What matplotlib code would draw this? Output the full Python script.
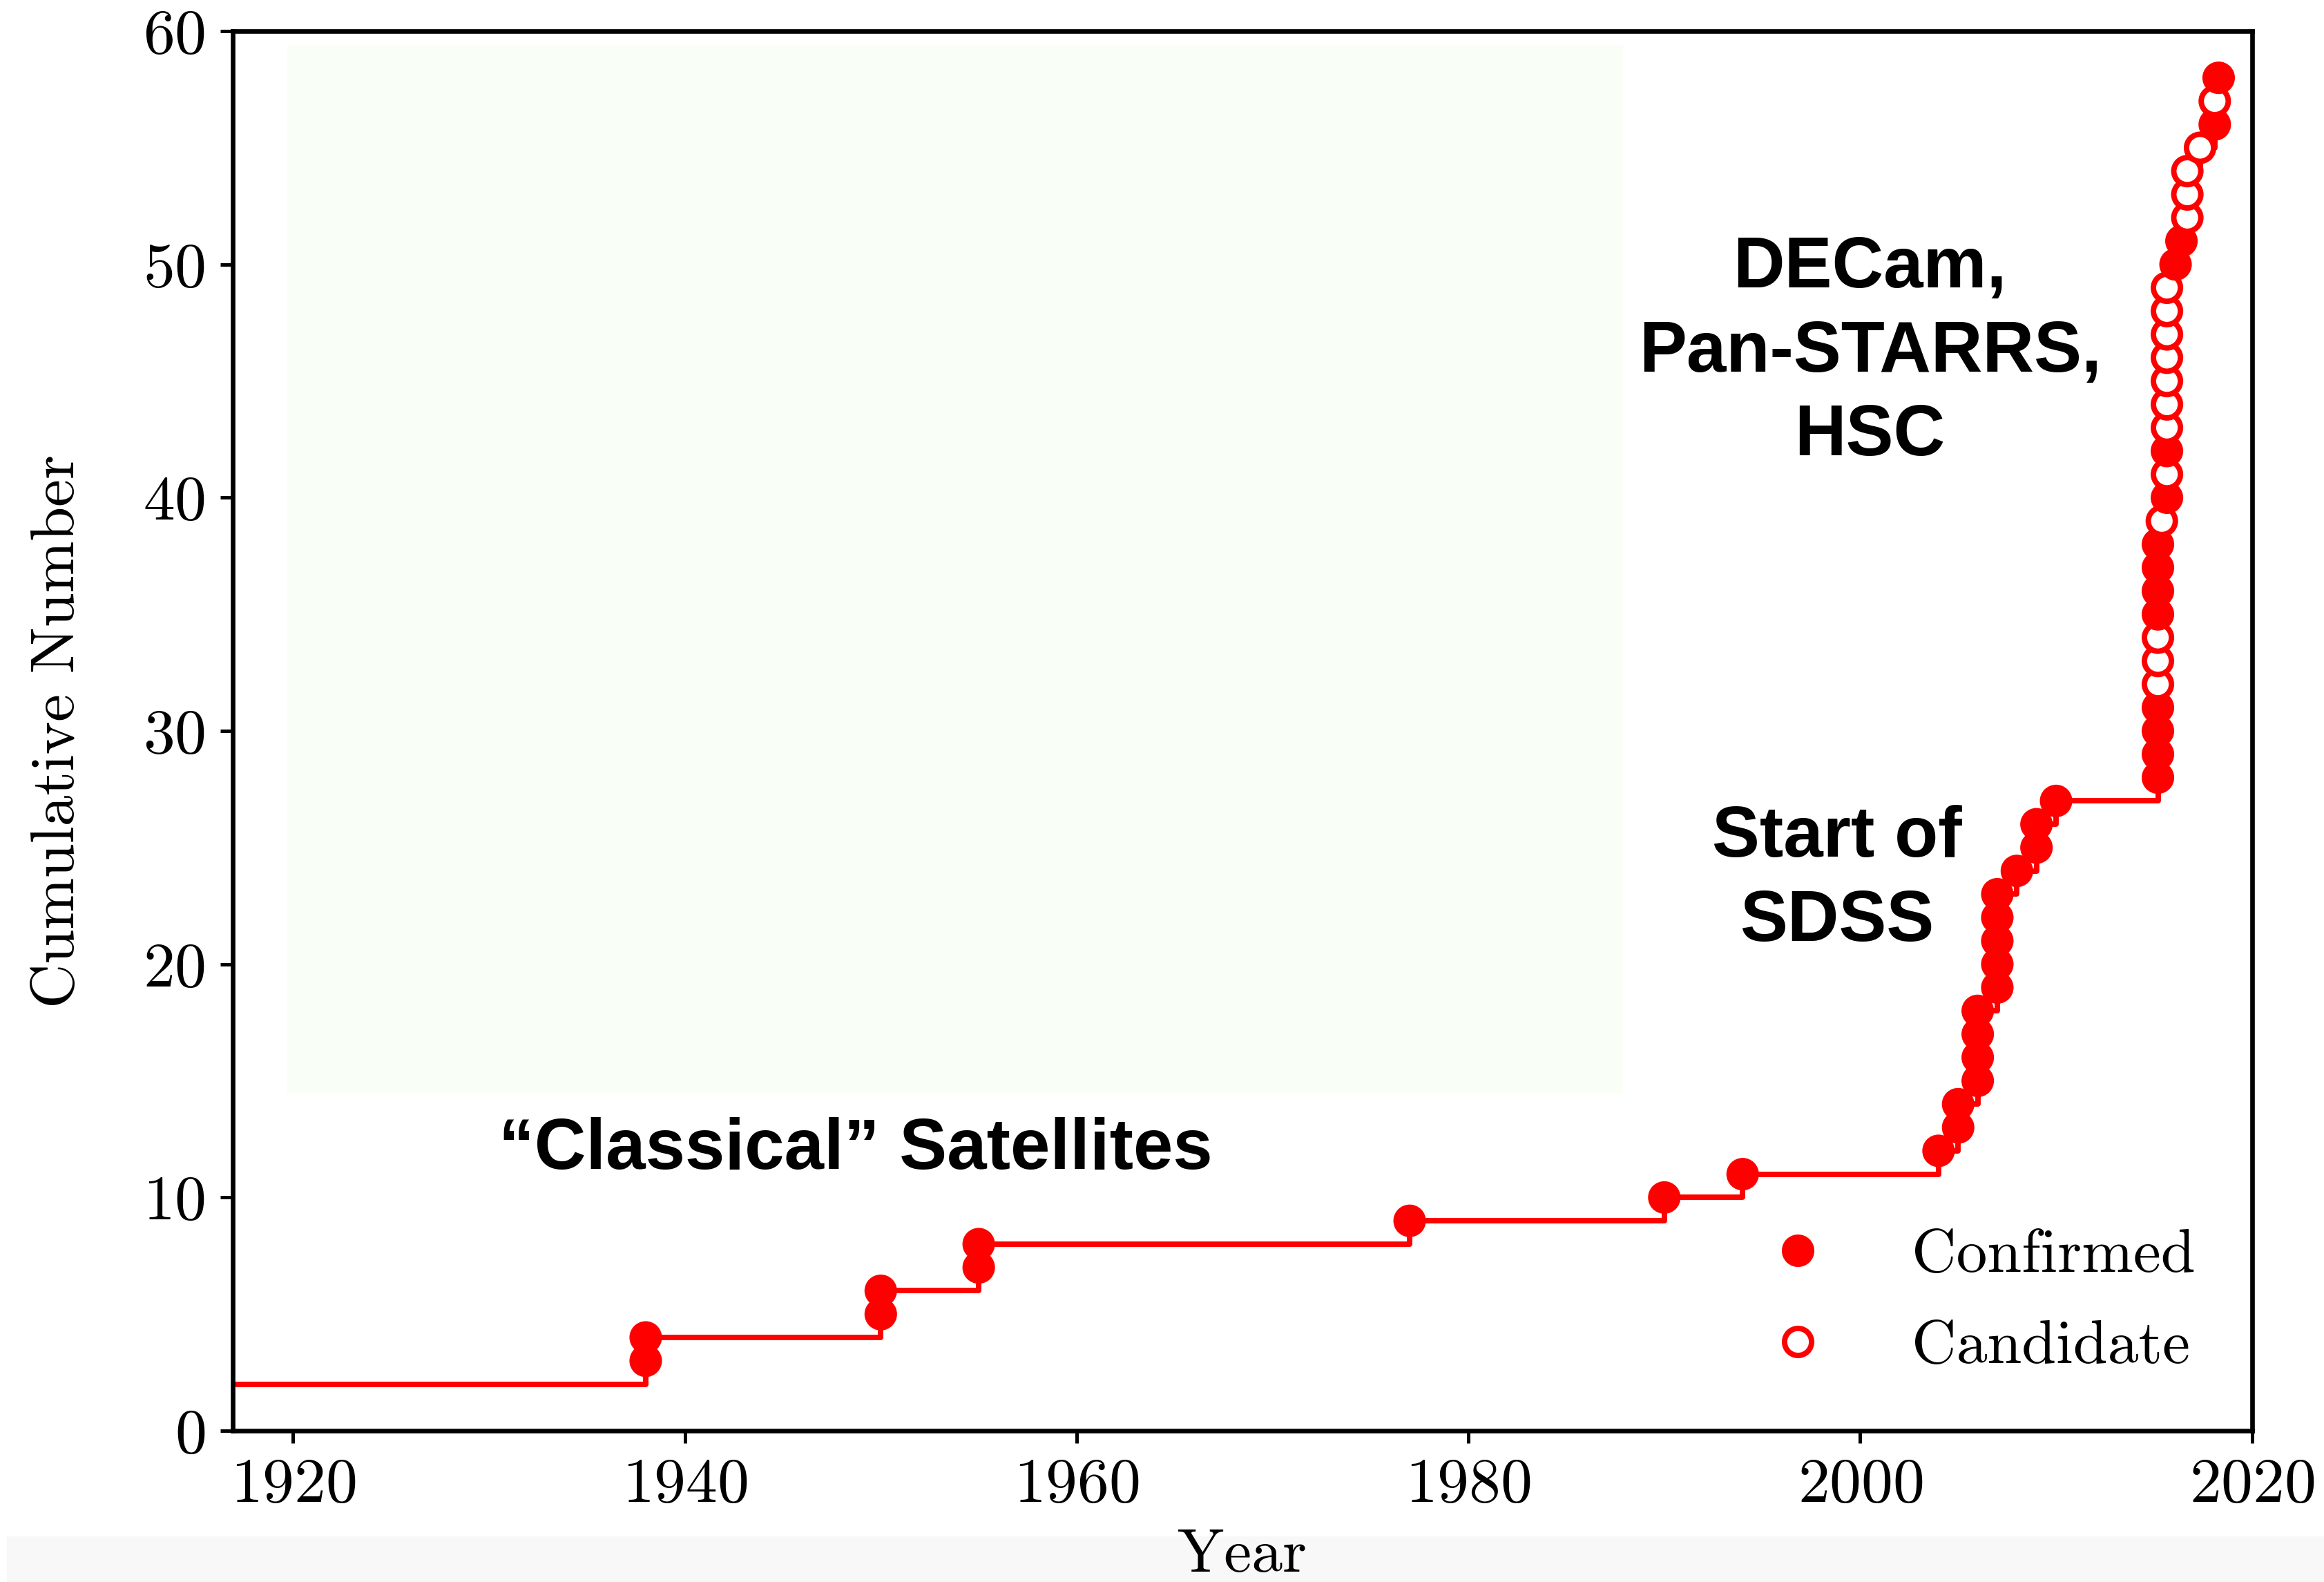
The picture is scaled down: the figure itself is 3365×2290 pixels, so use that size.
import matplotlib
matplotlib.use("Agg")
import matplotlib.pyplot as plt
from matplotlib.patches import Rectangle
from matplotlib.lines import Line2D
import numpy as np

# ---------------- data ----------------
initial_year = 1900          # LMC + SMC known before the plotted range
initial_count = 2

disc_years = [1938, 1938, 1950, 1950, 1955, 1955, 1977, 1990, 1994,
              2004, 2005, 2005, 2006, 2006, 2006, 2006,
              2007, 2007, 2007, 2007, 2007, 2008, 2009, 2009, 2010,
              2015.2, 2015.2, 2015.2, 2015.2, 2015.2, 2015.2, 2015.2,
              2015.2, 2015.2, 2015.2, 2015.2, 2015.4,
              2015.66, 2015.66, 2015.66, 2015.66, 2015.66, 2015.66,
              2015.66, 2015.66, 2015.66, 2015.66,
              2016.1, 2016.4, 2016.7, 2016.7, 2016.7, 2017.35,
              2018.1, 2018.1, 2018.3]
# C = confirmed, K = candidate
disc_status = (["C"] * 25 +
               ["C", "C", "C", "C", "K", "K", "K", "C", "C", "C", "C", "K",
                "C", "K", "C", "K", "K", "K", "K", "K", "K", "K",
                "C", "C", "K", "K", "K", "K", "C", "K", "C"])

x_ticks = [1920, 1940, 1960, 1980, 2000, 2020]
y_ticks = [0, 10, 20, 30, 40, 50, 60]

labels = {
    "classical": "\u201cClassical\u201d Satellites",
    "sdss": "Start of\nSDSS",
    "decam": "DECam,\nPan-STARRS,\nHSC",
}
label_pos = {
    "classical": (1948.7, 12.0),
    "sdss": (1998.8, 23.6),
    "decam": (2000.5, 46.2),
}
shade_x = (1919.7, 1987.9)
shade_y = (14.45, 59.4)

# ---------------- plot ----------------
plt.rcParams["font.family"] = ["cmr10", "DejaVu Serif"]
plt.rcParams["axes.formatter.use_mathtext"] = True
plt.rcParams["mathtext.fontset"] = "cm"

fig = plt.figure(figsize=(3365 / 300, 2290 / 300), dpi=300)
fig.patches.append(Rectangle((0.003, 0.0), 0.997, 0.029, transform=fig.transFigure,
                             facecolor="#f8f8f8", edgecolor="none", zorder=-10))
ax = fig.add_axes([0.100, 0.0956, 0.869, 0.8847])

years = np.array(disc_years, dtype=float)
counts = initial_count + np.arange(1, len(years) + 1)
status = np.array(disc_status)

ax.add_patch(Rectangle((shade_x[0], shade_y[0]), shade_x[1] - shade_x[0],
                       shade_y[1] - shade_y[0], facecolor="#f9fef7",
                       edgecolor="none", zorder=0))

ax.step(np.concatenate([[initial_year], years]),
        np.concatenate([[initial_count], counts]),
        where="post", color="red", lw=1.9, zorder=2)

face = ["red" if s == "C" else "white" for s in status]
sizes = [10.3 ** 2 if s == "C" else 9.4 ** 2 for s in status]
lws = [1.0 if s == "C" else 1.9 for s in status]
ax.scatter(years, counts, s=sizes, facecolors=face, edgecolors="red",
           linewidths=lws, zorder=3)

handles = [Line2D([], [], marker="o", ls="none", color="red", ms=10.3, mew=1.0),
           Line2D([], [], marker="o", ls="none", mfc="white", mec="red",
                  ms=9.4, mew=1.9)]
ax.legend(handles, ["Confirmed", "Candidate"], loc="lower right",
          bbox_to_anchor=(0.972, 0.04), frameon=False, fontsize=21.5,
          handletextpad=0.85, borderaxespad=0, borderpad=0, labelspacing=0.58)

for key, txt in labels.items():
    ax.text(*label_pos[key], txt, family="Liberation Sans", weight="bold",
            fontsize=24.8, ha="center", va="center", linespacing=1.33, zorder=4)

ax.set_xlim(1916.9, 2020)
ax.set_ylim(0, 60)
ax.set_xticks(x_ticks)
ax.set_yticks(y_ticks)
ax.tick_params(direction="out", length=4.4, width=1.2, labelsize=22, pad=5,
               top=False, right=False)
for sp in ax.spines.values():
    sp.set_linewidth(1.6)

ax.set_xlabel("Year", fontsize=21.5, labelpad=5)
ax.set_ylabel("Cumulative Number", fontsize=21.5, labelpad=20)

fig.savefig("out.png", dpi=300)
